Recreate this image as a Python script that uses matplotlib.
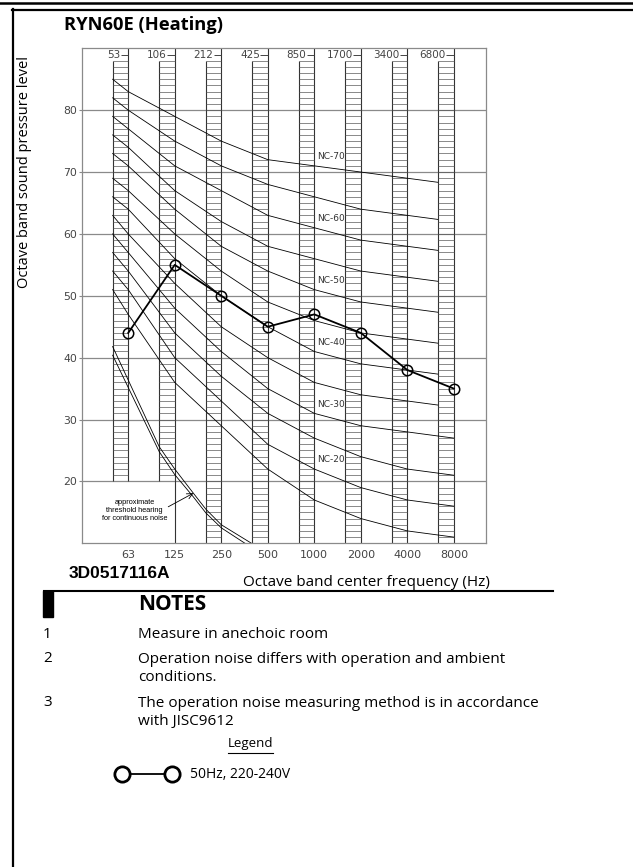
import numpy as np
import matplotlib
matplotlib.use('Agg')
import matplotlib.pyplot as plt
from matplotlib.lines import Line2D
from matplotlib.patches import Rectangle

W, H = 633, 867

# octave bands
freqs = ['63', '125', '250', '500', '1000', '2000', '4000', '8000']
band_lower = ['53', '106', '212', '425', '850', '1700', '3400', '6800']
spl_50hz = [44, 55, 50, 45, 47, 44, 38, 35]

# NC curves, values at the octave band centers
nc_levels = [15, 20, 25, 30, 35, 40, 45, 50, 55, 60, 65, 70]
nc_table = {
    15: [47, 36, 29, 22, 17, 14, 12, 11],
    20: [51, 40, 33, 26, 22, 19, 17, 16],
    25: [54, 44, 37, 31, 27, 24, 22, 21],
    30: [57, 48, 41, 35, 31, 29, 28, 27],
    35: [60, 52, 45, 40, 36, 34, 33, 32],
    40: [64, 56, 50, 45, 41, 39, 38, 37],
    45: [67, 60, 54, 49, 46, 44, 43, 42],
    50: [71, 64, 58, 54, 51, 49, 48, 47],
    55: [74, 67, 62, 58, 56, 54, 53, 52],
    60: [77, 71, 67, 63, 61, 59, 58, 57],
    65: [80, 75, 71, 68, 66, 64, 63, 62],
    70: [83, 79, 75, 72, 71, 70, 69, 68],
}
# level where each curve starts, at the left edge of the 63 Hz band
nc_start = [51, 54, 57, 60, 63, 66, 69, 73, 76, 79, 82, 85]
nc_labelled = [20, 30, 40, 50, 60, 70]

# approximate threshold of hearing (two lines), x in octaves from 63 Hz
thr_outer_x = [-0.335, 0.667, 1.0, 1.4, 1.67, 2.0, 2.65, 3.0]
thr_outer_y = [41.8, 25.6, 22.0, 18.1, 15.5, 13.0, 10.0, 8.5]
thr_inner_x = [-0.335, 0.667, 1.0, 1.4, 1.67, 2.0, 2.51, 3.0]
thr_inner_y = [40.4, 24.8, 21.1, 17.5, 14.9, 12.5, 10.0, 8.0]

notes = [
    ('1', 'Measure in anechoic room'),
    ('2', 'Operation noise differs with operation and ambient\nconditions.'),
    ('3', 'The operation noise measuring method is in accordance\nwith JISC9612'),
]
note_y = [634, 659, 703]

plt.rcParams['font.family'] = ['Open Sans', 'DejaVu Sans']


def fx(px):
    return px / W


def fy(py):
    return 1 - py / H


fig = plt.figure(figsize=(W / 100, H / 100), dpi=100)
ax = fig.add_axes([fx(81.7), fy(543.3), (485.5 - 81.7) / W, (543.3 - 48.3) / H])

x = np.arange(len(freqs))
col_w = 0.335
col_top = 88
grid_c = '#8a8a8a'
cad = dict(family='DejaVu Sans', color='#444444')

ax.set_xlim(-1, 7.68)
ax.set_ylim(10, 90)
ax.set_yticks(range(20, 81, 10))
ax.set_yticklabels([str(v) for v in range(20, 81, 10)], fontsize=7.8, **cad)
ax.set_xticks(x)
ax.set_xticklabels(freqs, fontsize=8, **cad)
ax.tick_params(axis='y', length=2.5, width=0.8, color=grid_c, pad=1)
ax.tick_params(axis='x', length=0, pad=5)
for s in ax.spines.values():
    s.set_color(grid_c)
    s.set_linewidth(0.9)
ax.yaxis.grid(True, color=grid_c, lw=0.9)
ax.set_axisbelow(True)

# hatched octave band columns
for i in x:
    lo = 20 if i < 2 else 10
    ax.vlines(i - col_w, lo, col_top, color='#333333', lw=0.8)
    ax.vlines(i, 10 if i >= 1 else 20, 90, color='#333333', lw=0.8)
    ax.hlines(np.arange(lo + 1, col_top + 1), i - col_w, i, color='#5a5a5a', lw=0.5)
    ax.hlines(88.9, i - 0.16, i, color='#444444', lw=0.7)
    ax.text(i - 0.17, 88.9, band_lower[i], ha='right', va='center', fontsize=7.5, **cad)

# NC curves
for lvl, start in zip(nc_levels, nc_start):
    vals = nc_table[lvl]
    line, = ax.plot(np.concatenate([[-col_w], x]), [start] + vals, color='k', lw=0.6)
    if lvl >= 35:
        clip = Rectangle((-1, 0), 8 - col_w, 100, transform=ax.transData)
        line.set_clip_path(clip)
    if lvl in nc_labelled:
        ax.text(4.07, vals[4] + 1.5, 'NC-%d' % lvl, fontsize=6.5, ha='left', va='center',
                family='DejaVu Sans', color='#333333')

# threshold of hearing
ax.plot(thr_outer_x, thr_outer_y, color='k', lw=0.6)
ax.plot(thr_inner_x, thr_inner_y, color='k', lw=0.6)
ax.text(0.14, 15.3, 'approximate\nthreshold hearing\nfor continuous noise', ha='center', va='center',
        fontsize=5.3, linespacing=1.2, family='Liberation Sans')
ax.annotate('', xy=(1.40, 18.1), xytext=(0.86, 15.9),
            arrowprops=dict(arrowstyle='->', lw=0.6, color='k', shrinkA=0, shrinkB=0))

# measured data
ax.plot(x, spl_50hz, color='k', lw=1.3, marker='o', ms=7.5, mfc='none', mec='k', mew=1.1)

# page frame
fig.add_artist(Line2D([0, 1], [fy(2.5)] * 2, color='k', lw=1.8, transform=fig.transFigure))
fig.add_artist(Line2D([fx(11.7), 1], [fy(10.2)] * 2, color='k', lw=1.6, transform=fig.transFigure))
fig.add_artist(Line2D([fx(12.7)] * 2, [fy(9.4), 0], color='k', lw=1.6, transform=fig.transFigure))

fig.text(fx(64), fy(25), 'RYN60E (Heating)', fontsize=13.2, fontweight='bold', va='center')
fig.text(fx(25), fy(172), 'Octave band sound pressure level', rotation=90, ha='center', va='center',
         fontsize=10.5)

fig.text(fx(69), fy(574), '3D0517116A', family='Liberation Sans', fontweight='bold', fontsize=12.5,
         va='center')
fig.text(fx(243), fy(582), 'Octave band center frequency (Hz)', fontsize=11, va='center')
fig.add_artist(Line2D([fx(44), fx(553)], [fy(591)] * 2, color='k', lw=1.5, transform=fig.transFigure))
fig.add_artist(Rectangle((fx(43.3), fy(617)), 10 / W, 26 / H, color='k', transform=fig.transFigure))
fig.text(fx(138), fy(604), 'NOTES', fontsize=15, fontweight='bold', va='center')

line_gap = 19
for (num, txt), y in zip(notes, note_y):
    n = txt.count('\n') + 1
    fig.text(fx(43), fy(y), num, fontsize=11, va='center')
    fig.text(fx(138), fy(y + (n - 1) * line_gap / 2), txt, fontsize=11, va='center',
             linespacing=1.24)

fig.text(fx(250.5), fy(743), 'Legend', fontsize=9.5, ha='center', va='center')
fig.add_artist(Line2D([fx(228), fx(273)], [fy(753)] * 2, color='k', lw=0.8, transform=fig.transFigure))

handle = Line2D([], [], color='k', lw=1.3, marker='o', ms=11, mfc='white', mec='k', mew=2)
fs = 10
fs_px = fs * 100 / 72
fig.legend(handles=[handle], labels=['50Hz, 220-240V'], loc='center left',
           bbox_to_anchor=(fx(122 - 0.3 * fs_px), fy(775)), numpoints=2,
           handlelength=(50 + 0.6 * fs_px) / fs_px, handletextpad=1.0, frameon=False,
           borderpad=0, borderaxespad=0, fontsize=fs)

fig.savefig('out.png', dpi=100)
